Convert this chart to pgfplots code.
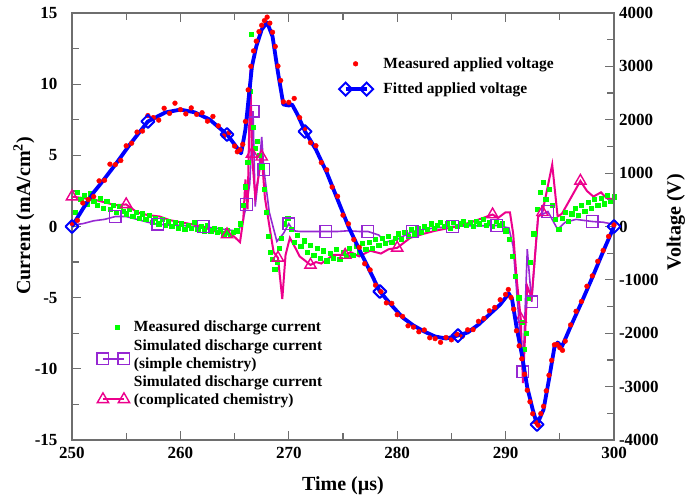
\documentclass[border=0pt]{standalone}
\usepackage{fontspec}
\setmainfont{Liberation Serif}
\usepackage{pgfplots}
\pgfplotsset{compat=1.18}

\definecolor{gviolet}{RGB}{150,40,210}
\definecolor{ggreen}{RGB}{0,255,0}
\definecolor{axgray}{RGB}{110,110,110}

\pgfplotsset{
  lineleg/.style={legend image code/.code={\path (-7pt,0pt) (23pt,0pt); \draw[##1, yshift=#1, overlay] plot coordinates {(0pt,0pt) (21pt,0pt)};}},
  dotleg/.style={legend image code/.code={\path (-7pt,0pt) (23pt,0pt); \draw[##1] plot coordinates {(#1,0pt)};}},
  commonax/.style={
    width=542pt, height=427pt, scale only axis,
    xmin=250, xmax=300, clip=false,
    axis line style={axgray, line width=1.2pt},
    major tick style={axgray, line width=1.2pt},
    minor tick style={axgray, line width=1.2pt},
    major tick length=9pt, minor tick length=7pt,
    /pgf/number format/assume math mode=true,
    /pgf/number format/1000 sep={},
    ticklabel style={font=\bfseries\fontsize{17}{18}\selectfont},
    label style={font=\bfseries\fontsize{20}{24}\selectfont},
    legend cell align=left,
  },
}

\begin{document}
\begin{tikzpicture}
% current (left axis)
\begin{axis}[commonax, name=ax,
  ymin=-15, ymax=15, ytick={-15,-10,...,15}, minor y tick num=1,
  xtick={250,260,...,300}, minor x tick num=1,
  ytick pos=left,
  yticklabel style={xshift=-11pt},
  xticklabel style={yshift=-4pt},
  xlabel={Time (µs)}, ylabel={Current (mA/cm\textsuperscript{2})},
  xlabel style={at={(axis description cs:0.5,-0.108)}, anchor=center},
  ylabel style={at={(axis description cs:-0.0886,0.525)}, anchor=center},
  legend style={draw=none, fill=none, at={(axis cs:252.1,-6.57)}, anchor=north west,
    inner sep=0pt, row sep=4pt, column sep=6pt,
    font=\bfseries\fontsize{15.5}{18.5}\selectfont, nodes={inner sep=1pt}},
]
% measured discharge current
\addplot[only marks, mark=square*, mark size=2.1pt, ggreen, forget plot] table {
250.3 1.0
250.5 2.4
250.8 1.9
251.1 2.2
251.4 1.6
251.7 2.3
252.0 1.8
252.3 1.5
252.6 2.0
252.9 1.3
253.2 1.8
253.5 1.2
253.8 1.5
254.1 1.0
254.4 1.4
254.7 1.1
255.0 0.9
255.3 1.2
255.6 0.7
255.9 1.0
256.2 0.6
256.5 0.9
256.8 0.5
257.1 0.8
257.4 0.3
257.7 0.6
258.0 0.2
258.3 0.5
258.6 0.1
258.9 0.4
259.2 0.0
259.5 0.3
259.8 -0.1
260.1 0.2
260.4 -0.2
260.7 0.1
261.0 -0.1
261.3 0.3
261.6 -0.2
261.9 0.0
262.2 -0.3
262.5 0.1
262.8 -0.3
263.1 -0.1
263.4 -0.4
263.7 -0.2
264.0 -0.5
264.3 -0.3
264.6 -0.6
264.9 -0.4
265.2 -0.3
265.5 0.2
265.8 1.5
266.0 2.8
266.2 4.5
266.4 9.5
266.5 13.5
266.7 7.0
266.9 5.5
267.1 6.0
267.3 5.0
267.5 4.2
267.7 2.6
267.9 1.0
268.1 -0.7
268.3 -1.8
268.5 -2.3
268.7 -3.0
268.9 -2.5
269.1 -1.5
269.3 -0.8
269.6 0.2
269.9 0.6
270.2 -0.2
270.5 -1.1
270.8 -0.6
271.1 -1.4
271.4 -1.0
271.7 -1.8
272.0 -1.3
272.3 -2.0
272.6 -1.5
272.9 -2.2
273.2 -1.7
273.5 -2.4
273.8 -1.9
274.1 -2.2
274.4 -1.6
274.7 -2.3
275.0 -1.8
275.3 -2.1
275.6 -1.5
275.9 -2.0
276.2 -1.4
276.5 -1.8
276.8 -1.2
277.1 -1.6
277.4 -1.1
277.7 -1.5
278.0 -0.9
278.3 -1.3
278.6 -0.8
278.9 -1.2
279.2 -0.7
279.5 -1.1
279.8 -0.8
280.1 -0.5
280.4 -0.9
280.7 -0.4
281.0 -0.7
281.3 -0.2
281.6 -0.5
281.9 -0.1
282.2 -0.4
282.5 0.0
282.8 -0.2
283.1 0.2
283.4 -0.1
283.7 0.1
284.0 0.3
284.3 0.0
284.6 0.2
284.9 -0.1
285.2 0.3
285.5 0.0
285.8 0.2
286.1 0.4
286.4 0.1
286.7 0.3
287.0 0.0
287.3 0.4
287.6 0.2
287.9 0.5
288.2 0.1
288.5 0.3
288.8 0.0
289.1 0.4
289.4 0.1
289.7 0.2
290.0 -0.3
290.3 -0.9
290.6 -2.1
290.9 -3.5
291.2 -5.0
291.5 -6.7
291.7 -8.6
291.9 -7.5
292.1 -5.0
292.3 -2.5
292.6 -0.5
292.9 1.2
293.2 2.4
293.5 3.1
293.7 1.9
294.0 2.6
294.3 1.5
294.6 0.5
294.9 -0.2
295.2 0.6
295.5 1.0
295.8 0.4
296.1 0.9
296.4 1.3
296.7 0.8
297.0 1.5
297.3 1.1
297.6 1.7
297.9 1.3
298.2 1.9
298.5 1.5
298.8 2.0
299.1 1.6
299.4 2.2
299.7 1.8
300.0 2.1
};
% simulated, simple chemistry
\addplot[gviolet, line width=1.6pt, mark=square, mark size=5.8pt,
  mark options={fill=white, line width=1.4pt},
  mark indices={5,9,13,19,21,25,29,33,37,41,44,47,50,52,54,58}, forget plot] table {
250 0.1
251 0.2
252 0.4
253 0.5
254 0.7
255 0.7
256 0.5
257 0.3
257.9 0.15
259 0.1
260 0.1
261 0.0
262.1 0.0
263 -0.1
264 -0.2
265 -0.3
265.4 -0.2
265.8 0.5
266.1 1.55
266.4 3.0
266.7 8.1
266.9 1.4
267.2 3.5
267.5 6.3
267.7 4.0
268.2 1.0
268.9 -1.05
269.5 -0.5
270 0.2
270.4 -0.3
271 -0.35
272 -0.35
273.4 -0.35
274.5 -0.35
275.5 -0.3
276.5 -0.35
277.3 -0.35
278.3 -0.6
278.9 -1.1
280 -0.9
281.4 -0.35
282.5 -0.2
283.5 -0.1
285.1 0.0
286.5 0.05
288 0.05
289.2 0.07
290.3 -0.1
290.7 -1.4
291.6 -10.2
292 -1.6
292.4 -5.3
293 0.7
293.9 1.05
294.8 -0.2
295.5 0.3
296.5 0.5
298 0.35
299 0.3
300 0.15
};
% simulated, complicated chemistry
\addplot[magenta, line width=2pt, mark=triangle, mark size=6.5pt,
  mark options={fill=white, line width=1.4pt},
  mark indices={1,6,15,22,24,28,34,38,44,50,56,61,65}, forget plot] table {
250 2.1
251 2.0
252 1.9
253 1.7
254 1.5
255 1.55
256 1.0
257 0.8
258.1 0.7
259 0.45
260 0.3
261.2 0.14
262 0.0
263 -0.3
264.3 -0.56
264.8 -0.6
265.5 -1.1
265.8 0.5
266 3.3
266.2 1.2
266.45 11.0
266.6 5.1
266.9 2.1
267.5 4.9
267.8 2.0
268.3 -0.4
268.6 -1.8
269 -2.2
269.4 -5.1
269.7 -2.0
270.1 -0.8
270.6 -1.5
271 -2.1
272 -2.7
272.5 -2.5
273 -2.6
274.1 -2.0
275.2 -2.0
275.7 -1.8
276.5 -2.1
277.5 -1.7
278.5 -1.9
279.2 -1.6
280 -1.5
281.2 -0.8
282.5 -0.5
283.5 -0.3
285.5 0.0
287 0.35
288.8 0.84
289.3 0.6
290 1.0
290.4 1.0
290.7 -0.5
291 -3.5
291.4 -6.5
291.6 -11.0
292 -4.2
292.4 -5.0
293 0.7
293.4 1.0
294.3 4.35
294.8 0.7
295.2 0.9
296.9 3.2
297.5 2.5
298.1 2.1
298.8 2.4
299.3 2.0
300 1.9
};
\addlegendimage{ggreen, only marks, mark=square*, mark size=2.1pt, dotleg=14pt}
\addlegendentry{Measured discharge current}
\addlegendimage{empty legend}
\addlegendentry{Simulated discharge current}
\addlegendimage{gviolet, line width=1.6pt, mark=square, mark size=5.8pt,
  mark options={fill=white, line width=1.4pt}, lineleg=5pt}
\addlegendentry{(simple chemistry)}
\addlegendimage{empty legend}
\addlegendentry{Simulated discharge current}
\addlegendimage{magenta, line width=2pt, mark=triangle, mark size=6.5pt,
  mark options={fill=white, line width=1.4pt}, lineleg=1pt}
\addlegendentry{(complicated chemistry)}
\end{axis}

% voltage (right axis)
\begin{axis}[commonax,
  ymin=-4000, ymax=4000, ytick={-4000,-3000,...,4000}, minor y tick num=1,
  axis y line*=right, axis x line=none,
  yticklabel style={xshift=1.5pt},
  ylabel={Voltage (V)},
  ylabel style={at={(axis description cs:1.114,0.51)}, anchor=center},
  legend style={draw=none, fill=none, at={(axis cs:274.4,3185)}, anchor=north west,
    inner sep=0pt, row sep=11pt, column sep=12pt,
    font=\bfseries\fontsize{15.5}{18.5}\selectfont, nodes={inner sep=1pt}},
]
% measured applied voltage
\addplot[only marks, mark=*, mark size=2.4pt, red, forget plot] table {
250 60
250.5 115
251 440
251.5 505
252 560
252.5 855
253 866
253.5 1168
254 1160
254.5 1237
255 1512
255.5 1560
256 1769
256.5 1788
257 2078
257.5 2040
258 1993
258.5 2215
259 2120
259.5 2311
260 2190
260.5 2110
261 2222
261.5 2101
262 2132
262.5 1974
263 2062
263.5 1885
264 1697
264.5 1760
265 1507
265.25 1400
265.5 1438
265.75 1540
266 1968
266.25 2560
266.5 3000
266.75 3290
267 3473
267.25 3650
267.5 3770
267.75 3857
268 3923
268.25 3810
268.5 3640
268.75 3373
269 3006
269.25 2736
269.5 2336
270 2327
270.5 2400
271 2040
271.5 1840
272 1570
272.5 1513
273 1198
273.5 1062
274 739
274.5 566
275 213
275.5 50
276 -245
276.5 -391
277 -697
277.5 -813
278 -1100
278.5 -1222
279 -1431
279.5 -1440
280 -1652
280.5 -1685
281 -1860
281.5 -1885
282 -1972
282.5 -1938
283 -2085
283.5 -2101
284 -2170
284.5 -2079
285 -2123
285.5 -2018
286 -2058
286.5 -1936
287 -1932
287.5 -1777
288 -1723
288.5 -1579
289 -1516
289.5 -1372
290 -1273
290.25 -1180
290.5 -1330
290.75 -1550
291 -1954
291.25 -2236
291.5 -2479
291.75 -2768
292 -3067
292.25 -3283
292.5 -3509
292.75 -3660
293 -3723
293.25 -3506
293.5 -3369
293.75 -3078
294 -2787
294.25 -2507
294.5 -2217
294.75 -2210
295 -2270
295.25 -2320
295.5 -2148
296 -1844
296.5 -1589
297 -1404
297.5 -1120
298 -925
298.5 -652
299 -449
299.5 -185
300 30
};
% fitted applied voltage
\addplot[blue, line width=3.8pt, line join=round, mark=square, mark size=4.6pt,
  mark options={rotate=45, fill=white, line width=2pt},
  mark indices={1,7,12,26,33,40,51,61}, forget plot] table {
250 0
251 330
252 640
252.6 790
254 1160
255.35 1540
257 1968
258.6 2136
260 2190
261.3 2140
262.7 2005
264.3 1724
265 1537
265.6 1370
266 1818
266.6 3000
267 3373
267.5 3690
268 3823
268.5 3560
269 2886
269.5 2286
270 2267
270.3 2286
270.8 2099
271.5 1780
272.5 1443
273.5 1012
274.5 506
275.5 0
276.5 -431
277.5 -843
278.4 -1218
279.5 -1480
280.5 -1705
281.5 -1855
282.5 -1968
283.5 -2061
284.5 -2099
285.6 -2043
286.5 -1986
287.5 -1837
288.5 -1649
289.5 -1462
290.3 -1255
290.6 -1368
291 -1874
291.5 -2399
292 -3017
292.5 -3429
292.9 -3710
293.5 -3429
294 -2867
294.5 -2267
294.8 -2174
295.2 -2249
296 -1874
297 -1424
298 -955
299 -469
300 0
};
\addlegendimage{red, only marks, mark=*, mark size=2.4pt, dotleg=10pt}
\addlegendentry{Measured applied voltage}
\addlegendimage{blue, line width=3.8pt, mark=square, mark size=4.6pt,
  mark options={rotate=45, fill=white, line width=2pt}, lineleg=0pt}
\addlegendentry{Fitted applied voltage}
\end{axis}
\pgfresetboundingbox
\path[use as bounding box] ([xshift=-72pt,yshift=-60pt]ax.south west) rectangle ([xshift=72pt,yshift=13pt]ax.north east);
\end{tikzpicture}
\end{document}
